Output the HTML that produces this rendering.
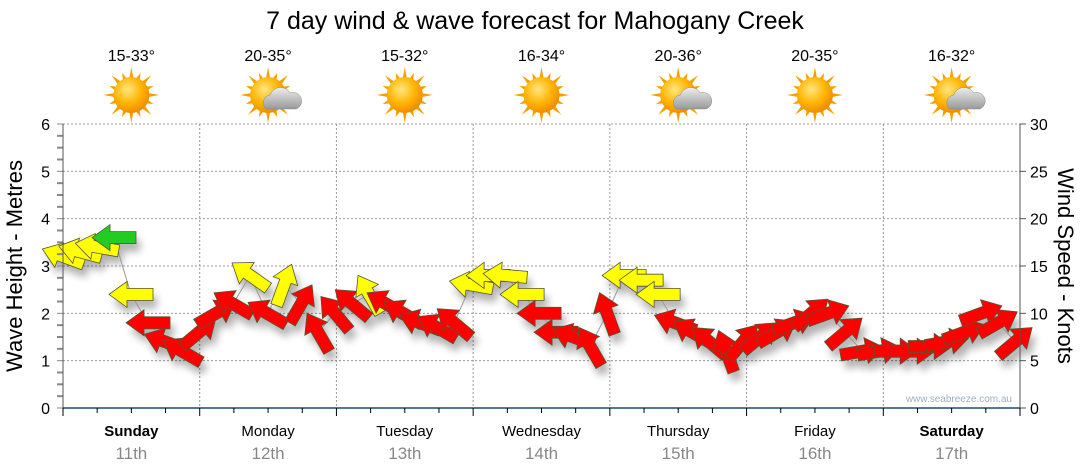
<!DOCTYPE html>
<html><head><meta charset="utf-8"><style>
body{margin:0;background:#fff;}
svg{display:block;font-family:"Liberation Sans","DejaVu Sans",sans-serif;}
</style></head><body>
<svg id="c" width="1080" height="475">
<defs>
<filter id="sh" x="-50%" y="-50%" width="200%" height="200%"><feGaussianBlur stdDeviation="4"/></filter>
<radialGradient id="sun" cx="40%" cy="35%" r="65%"><stop offset="0" stop-color="#ffe680"/><stop offset="0.6" stop-color="#ffb400"/><stop offset="1" stop-color="#f08c00"/></radialGradient>
<linearGradient id="cloud" x1="0" y1="0" x2="0" y2="1"><stop offset="0" stop-color="#eee"/><stop offset="1" stop-color="#999"/></linearGradient>
</defs>
<text x="535" y="29" font-size="25" text-anchor="middle" fill="#000">7 day wind &amp; wave forecast for Mahogany Creek</text>
<g id="grid"></g>
<g id="shadows" filter="url(#sh)" opacity="0.3"></g>
<g id="marks"></g>
<g id="axes"></g>
<text x="1012" y="402" font-size="10" text-anchor="end" fill="#a0b0c0">www.seabreeze.com.au</text>
<text transform="translate(22,266) rotate(-90)" font-size="22" text-anchor="middle">Wave Height - Metres</text>
<text transform="translate(1058,266) rotate(90)" font-size="22" text-anchor="middle">Wind Speed - Knots</text>
</svg>
<script>
const days=["Sunday","Monday","Tuesday","Wednesday","Thursday","Friday","Saturday"];
const dates=["11th","12th","13th","14th","15th","16th","17th"];
const temps=["15-33°","20-35°","15-32°","16-34°","20-36°","20-35°","16-32°"];
const cloudy=[0,1,0,0,1,0,1];
const leftTicks=[0,1,2,3,4,5,6];
const rightTicks=[0,5,10,15,20,25,30];
const speeds=[16,16.5,17,18,12,9,7,6,8,10,11,14,10,13,11,8,10,11,12,11,10,9,8.5,9,13,14,14,12,10,8,7.5,6.5,10,14,13.5,12,9,8,7,6,7,7.5,8,9,10,10,8,6,6,6,6,6.5,7,8,10,9,7];
const dirs=[200,195,190,180,180,180,200,210,-40,-30,210,215,210,-70,-60,-120,-130,-140,-120,-150,-150,-160,-150,-140,190,180,185,180,180,180,-160,-120,-110,180,180,180,-160,-150,-140,-110,-50,-40,-30,-20,-40,-20,-40,-10,-10,0,0,0,-10,-20,-20,-30,-40];
const X0=63,X1=1020,Y0=408,YT=124,N=speeds.length;
const xs=i=>X0+(X1-X0)*i/(N-1)*0.995;
const yk=k=>Y0-(Y0-YT)*k/30;
const ym=m=>Y0-(Y0-YT)*m/6;
const dayW=(X1-X0)/7;
const NS="http://www.w3.org/2000/svg";
function mk(tag,at,parent){const e=document.createElementNS(NS,tag);for(const k in at)e.setAttribute(k,at[k]);parent.appendChild(e);return e;}
const svg=document.getElementById('c'),grid=document.getElementById('grid'),axes=document.getElementById('axes'),marks=document.getElementById('marks'),shadows=document.getElementById('shadows');
leftTicks.forEach(v=>{if(v>0){const l=mk('line',{x1:X0,x2:X1,y1:ym(v),y2:ym(v),stroke:'#999','stroke-dasharray':'2,2','stroke-width':1},grid);}
const t=mk('text',{x:50,y:ym(v)+6,'font-size':16,'text-anchor':'end',fill:'#000'},axes);t.textContent=v;});
for(let m=0;m<=6;m+=0.25){mk('line',{x1:X0-6,x2:X0,y1:ym(m),y2:ym(m),stroke:'#888','stroke-width':m%1?2:1},axes);}
rightTicks.forEach(v=>{const t=mk('text',{x:1030,y:yk(v)+6,'font-size':16,fill:'#000'},axes);t.textContent=v;
mk('line',{x1:X1,x2:X1+6,y1:yk(v),y2:yk(v),stroke:'#555'},axes);});
mk('line',{x1:X0,x2:X0,y1:YT,y2:Y0,stroke:'#555'},axes);
mk('line',{x1:X1,x2:X1,y1:YT,y2:Y0,stroke:'#555'},axes);
mk('line',{x1:X0,x2:X1,y1:Y0,y2:Y0,stroke:'#1a4a70','stroke-width':1.5},axes);
for(let q=0;q<=28;q++){const x=X0+dayW*q/4;mk('line',{x1:x,x2:x,y1:Y0,y2:Y0+(q%4?5:8),stroke:'#000'},axes);}
days.forEach((d,i)=>{const xb=X0+dayW*(i+1);if(i<6){const l=mk('line',{x1:xb,x2:xb,y1:YT,y2:Y0,stroke:'#999','stroke-dasharray':'2,2'},grid);}
const cx=X0+dayW*(i+0.5);
const t=mk('text',{x:cx,y:436,'font-size':15,'text-anchor':'middle','font-weight':(i==0||i==6)?'bold':'normal'},axes);t.textContent=d;
const t2=mk('text',{x:cx,y:459,'font-size':17,'text-anchor':'middle',fill:'#888'},axes);t2.textContent=dates[i];
const t3=mk('text',{x:cx,y:61,'font-size':16,'text-anchor':'middle'},svg);t3.textContent=temps[i];
const g=mk('g',{transform:`translate(${cx},95)`},svg);
for(let r=0;r<16;r++){const a=r*Math.PI/8;mk('polygon',{points:`${Math.cos(a-0.12)*17},${Math.sin(a-0.12)*17} ${Math.cos(a)*(r%2?24:28)},${Math.sin(a)*(r%2?24:28)} ${Math.cos(a+0.12)*17},${Math.sin(a+0.12)*17}`,fill:'#f5a000'},g);}
mk('circle',{r:18,fill:'url(#sun)'},g);
if(cloudy[i]){mk('path',{d:'M-2,14 a8,8 0 0 1 4,-14 a11,11 0 0 1 20,-2 a8,8 0 0 1 6,16 z',fill:'url(#cloud)',stroke:'#888','stroke-width':0.5},g);}
});
let pd='';speeds.forEach((s,i)=>{pd+=(i?'L':'M')+xs(i)+','+yk(s);});
const cl=mk('path',{d:pd,fill:'none',stroke:'#999','stroke-width':1},marks);
const arrowPts="-22,-6 4,-6 4,-13 22,0 4,13 4,6 -22,6";
speeds.forEach((s,i)=>{const col=s>=17.5?'#22cc22':s>=12?'#ffff00':'#ff0000';
const tr=`translate(${xs(i)},${yk(s)}) rotate(${dirs[i]})`;
mk('polygon',{points:arrowPts,transform:`translate(${xs(i)+4},${yk(s)+8}) rotate(${dirs[i]})`,fill:'#000'},shadows);
const a=mk('polygon',{points:arrowPts,transform:tr,fill:col,stroke:'#553',"stroke-width":0.8},marks);

});
</script>
</body></html>
